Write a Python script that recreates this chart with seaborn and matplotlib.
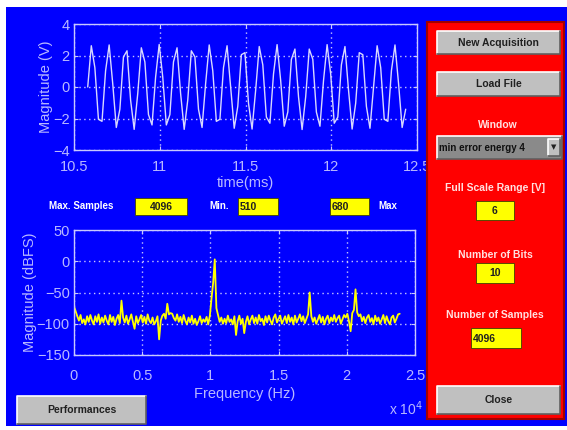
import numpy as np
import pandas as pd
import matplotlib
matplotlib.use("Agg")
import matplotlib.pyplot as plt
from matplotlib.patches import Rectangle
from matplotlib.ticker import FixedLocator, FuncFormatter
import seaborn as sns

# ---- data -------------------------------------------------------------
# acquired samples (V), fs = 48 kHz, starting at 10.58 ms
t_start_ms = 10.58
sample_period_ms = 1.0 / 48.0
signal_v = [
    0.00, 2.62, 1.23, -2.05, -2.18, 1.03, 2.67, 0.21, -2.57, -1.41,
    1.91, 2.30, -0.83, -2.69, -0.42, 2.49, 1.59, -1.75, -2.41, 0.63,
    2.70, 0.63, -2.41, -1.75, 1.59, 2.49, -0.42, -2.69, -0.83, 2.30,
    1.91, -1.41, -2.57, 0.21, 2.67, 1.03, -2.18, -2.05, 1.23, 2.62,
    0.00, -2.62, -1.23, 2.05, 2.18, -1.03, -2.67, -0.21, 2.57, 1.41,
    -1.91, -2.30, 0.83, 2.69, 0.42, -2.49, -1.59, 1.75, 2.41, -0.63,
    -2.70, -0.63, 2.41, 1.75, -1.59, -2.49, 0.42, 2.69, 0.83, -2.30,
    -1.91, 1.41, 2.57, -0.21, -2.67, -1.03, 2.18, 2.05, -1.23, -2.62,
    0.00, 2.62, 1.23, -2.05, -2.18, 1.03, 2.67, 0.21, -2.57, -1.41,
]

# magnitude spectrum (dBFS), one bin every 120 Hz
bin_width_hz = 120.0
spectrum_dbfs = [
    -72, -80, -88, -95, -86, -99, -93, -101, -88, -97, -86, -95, -101, -88, -97, -85, -100, -90, -98, -87,
    -95, -101, -86, -97, -89, -102, -92, -86, -99, -63, -90, -98, -87, -100, -93, -85, -97, -108, -88, -99,
    -93, -86, -98, -89, -100, -85, -95, -99, -90, -101, -96, -88, -125, -95, -87, -84, -92, -68, -85, -83,
    -84, -91, -95, -85, -97, -89, -99, -86, -95, -101, -90, -98, -87, -100, -92, -102, -96, -88, -99, -93,
    -97, -89, -101, -87, -60, -35, 3, -75, -86, -97, -90, -100, -92, -99, -87, -97, -93, -101, -88, -118,
    -96, -87, -100, -92, -115, -97, -88, -101, -93, -87, -99, -90, -100, -86, -96, -92, -102, -88, -98, -87,
    -95, -101, -90, -85, -98, -92, -87, -100, -94, -88, -99, -86, -97, -90, -101, -87, -98, -92, -85, -96,
    -88, -99, -92, -85, -50, -88, -97, -90, -100, -93, -86, -98, -89, -101, -92, -87, -99, -90, -96, -86,
    -97, -91, -87, -100, -93, -86, -90, -84, -96, -112, -83, -78, -45, -82, -88, -85, -96, -89, -99, -90,
    -86, -97, -91, -101, -87, -96, -90, -100, -93, -86, -99, -88, -96, -101, -90, -87, -98, -92, -85, -84,
]

time_ticks = [10.5, 11, 11.5, 12, 12.5]
volt_ticks = [-4, -2, 0, 2, 4]
freq_ticks = [0, 5000, 10000, 15000, 20000, 25000]
db_ticks = [-150, -100, -50, 0, 50]

max_samples = "4096"
min_index = "510"
max_index = "680"
window_name = "min error energy 4"
full_scale = "6"
n_bits = "10"
n_samples = "4096"

time_df = pd.DataFrame({
    "time": t_start_ms + sample_period_ms * np.arange(len(signal_v)),
    "volts": signal_v,
})
spec_df = pd.DataFrame({
    "freq": bin_width_hz * np.arange(len(spectrum_dbfs)),
    "db": spectrum_dbfs,
})

# ---- styling ----------------------------------------------------------
W, H = 567, 430
BLUE = "#0000ff"
RED = "#ff0000"
LINE = "#c8c8ff"
TXT = "#b8b8ff"
GRAY = "#c0c0c0"
YEL = "#ffff00"

sns.set_style("dark")
plt.rcParams["font.family"] = ["Liberation Sans", "DejaVu Sans"]

fig = plt.figure(figsize=(W / 100, H / 100), dpi=100, facecolor="white")


def fx(x):
    return x / W


def fy(y):
    return 1 - y / H


def rect(x0, y0, x1, y1, fc, ec="none", lw=0, z=1):
    fig.patches.append(Rectangle((fx(x0), fy(y1)), fx(x1) - fx(x0), fy(y0) - fy(y1),
                                 transform=fig.transFigure, facecolor=fc,
                                 edgecolor=ec, linewidth=lw, zorder=z))


def bevel(x0, y0, x1, y1, fc=GRAY, light="#ffffff", dark="#606060", z=2):
    rect(x0, y0, x1, y1, fc, z=z)
    fig.add_artist(plt.Line2D([fx(x0), fx(x0), fx(x1)], [fy(y1), fy(y0), fy(y0)],
                              transform=fig.transFigure, color=light, lw=1.2, zorder=z + 0.1))
    fig.add_artist(plt.Line2D([fx(x0), fx(x1), fx(x1)], [fy(y1), fy(y1), fy(y0)],
                              transform=fig.transFigure, color=dark, lw=1.2, zorder=z + 0.1))


def label(x, y, s, color="white", size=7.5, ha="center", weight="bold"):
    fig.text(fx(x), fy(y), s, color=color, fontsize=size, ha=ha, va="center",
             fontweight=weight, zorder=5)


def button(x0, y0, x1, y1, s):
    bevel(x0, y0, x1, y1)
    label((x0 + x1) / 2, (y0 + y1) / 2, s, color="#202020")


def edit_box(x0, y0, x1, y1, s, ha="center"):
    rect(x0, y0, x1, y1, YEL, ec="#404000", lw=0.6, z=2)
    if ha == "center":
        label((x0 + x1) / 2, (y0 + y1) / 2 + 0.5, s, color="#202020")
    else:
        label(x0 + 2, (y0 + y1) / 2 + 0.5, s, color="#202020", ha="left")


# window background (kept beneath the axes)
rect(6, 7, 567, 426, BLUE, z=-10)

# ---- time-domain axes -------------------------------------------------
ax1 = fig.add_axes([fx(74), fy(150), fx(417) - fx(74), fy(24) - fy(150)])
sns.lineplot(data=time_df, x="time", y="volts", ax=ax1, color="#d8d8ff",
             linewidth=1.0, estimator=None, sort=False)
ax1.set_xlim(10.5, 12.5)
ax1.set_ylim(-4, 4)
ax1.xaxis.set_major_locator(FixedLocator(time_ticks))
ax1.yaxis.set_major_locator(FixedLocator(volt_ticks))
ax1.xaxis.set_major_formatter(FuncFormatter(lambda v, p: f"{v:g}"))
ax1.set_xlabel("time(ms)", color=TXT, fontsize=10.5, labelpad=2)
ax1.set_ylabel("Magnitude (V)", color=TXT, fontsize=10.5, labelpad=0)

# ---- spectrum axes ----------------------------------------------------
ax2 = fig.add_axes([fx(74), fy(355), fx(415) - fx(74), fy(230) - fy(355)])
sns.lineplot(data=spec_df, x="freq", y="db", ax=ax2, color=YEL,
             linewidth=1.3, estimator=None, sort=False)
ax2.set_xlim(0, 25000)
ax2.set_ylim(-150, 50)
ax2.xaxis.set_major_locator(FixedLocator(freq_ticks))
ax2.yaxis.set_major_locator(FixedLocator(db_ticks))
ax2.xaxis.set_major_formatter(FuncFormatter(lambda v, p: f"{v / 1e4:g}"))
ax2.set_xlabel("Frequency (Hz)", color=TXT, fontsize=10.5, labelpad=3)
ax2.set_ylabel("Magnitude (dBFS)", color=TXT, fontsize=10.5, labelpad=0)
fig.text(fx(389), fy(409), r"x 10$^4$", color=TXT, fontsize=10, ha="left", va="center")

for ax in (ax1, ax2):
    ax.set_facecolor(BLUE)
    ax.set_zorder(1)
    for sp in ax.spines.values():
        sp.set_visible(True)
        sp.set_color(LINE)
        sp.set_linewidth(1.0)
    ax.grid(True, linestyle=(0, (1, 2.5)), color=LINE, linewidth=1.0)
    ax.tick_params(direction="in", length=3, width=0.8, color=LINE, labelcolor=TXT,
                   labelsize=10.5, top=True, right=True, bottom=True, left=True, pad=3)
ax1.tick_params(axis="x", pad=7)
ax2.tick_params(axis="x", pad=10)

# ---- sample range row -------------------------------------------------
label(81, 206, "Max. Samples", size=7)
edit_box(135, 198, 187, 215, max_samples)
label(219, 206, "Min.", size=7)
edit_box(238, 198, 278, 215, min_index, ha="left")
edit_box(330, 198, 369, 215, max_index, ha="left")
label(388, 206, "Max", size=7)

button(17, 396, 146, 424, "Performances")

# ---- control panel ----------------------------------------------------
rect(427, 22, 564, 419, RED, ec="#a00000", lw=1.5)
button(437, 31, 560, 54, "New Acquisition")
button(437, 72, 560, 96, "Load File")
label(498, 125, "Window", color="#ffe0e0")
bevel(437, 136, 562, 159, fc="#8a8a8a", z=2)
fig.text(fx(439), fy(148), window_name, color="#101010", fontsize=7, fontweight="bold",
         ha="left", va="center", zorder=5)
bevel(548, 139, 560, 156, z=3)
fig.text(fx(554), fy(147.5), "\u25bc", color="#202020", fontsize=5, ha="center", va="center",
         family="DejaVu Sans", zorder=5)
label(495, 188, "Full Scale Range [V]", color="#ffe0e0")
edit_box(476, 201, 514, 220, full_scale)
label(495, 255, "Number of Bits", color="#ffe0e0")
edit_box(476, 263, 514, 283, n_bits)
label(495, 315, "Number of Samples", color="#ffe0e0")
edit_box(471, 328, 521, 348, n_samples, ha="left")
button(437, 386, 560, 414, "Close")

fig.savefig("out.png", dpi=100, facecolor="white")
